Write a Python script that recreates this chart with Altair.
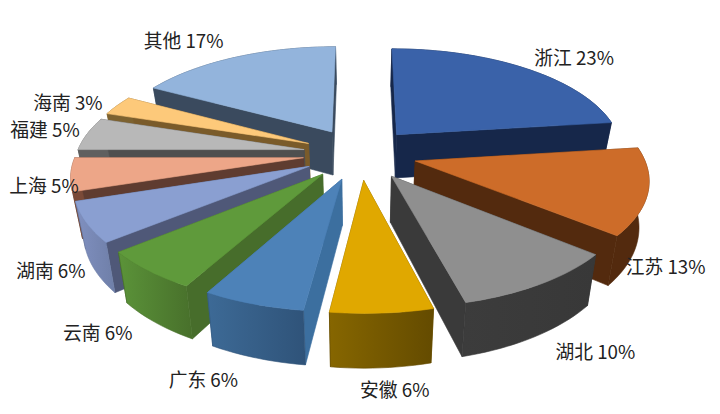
import math
import altair as alt
import pandas as pd

names = ["浙江", "江苏", "湖北", "安徽", "广东", "云南", "湖南", "上海", "福建", "海南", "其他"]
shares = [23, 13, 10, 6, 6, 6, 6, 5, 5, 3, 17]
top_colors = ["#3a62a9", "#cd6c29", "#8f8f8f", "#e0a800", "#4d82b8", "#5f9a3b", "#8a9fd1", "#eda688", "#b8b8b8", "#fdc97a", "#93b4dc"]
radial_colors = ["#16274a", "#532a0e", "#3a3a3a", "#6e5300", "#3c6f9f", "#476d2b", "#4f5878", "#5f3c30", "#4f4f4f", "#7a5b2a", "#3a4a5e"]
rim_left = ["#16274a", "#532a0e", "#3c3c3c", "#866600", "#3d6a96", "#5b9339", "#8090c0", "#7a4a38", "#5f5f5f", "#7d6230", "#3e5068"]
rim_right = ["#16274a", "#532a0e", "#383838", "#644b00", "#2f5379", "#48702b", "#6f7fa8", "#7a4a38", "#5f5f5f", "#7d6230", "#3e5068"]
label_radius = [1.30, 1.20, 1.25, 1.38, 1.30, 1.24, 1.22, 1.30, 1.30, 1.26, 1.22]
label_dx = [44, 30, 55, 10, -45, -53, -43, -15, -32, -48, -55]
label_dy = [-6, 79, 70, 58, 70, 65, 52, 12, -2, -1, -17]

CX, CY, R, TILT, K, DEPTH, EXPLODE, SHRINK = 364, 153, 230, 0.457, 0.15, 45, 0.25, 0.035
X_DOMAIN, Y_DOMAIN = [8, 720], [406, 8]


def project(u, v, z=0.0):
    s = 1 / (1 - K * v)
    return CX + R * u * s * (1 - SHRINK * z), CY + R * TILT * v * s + DEPTH * z * s


def grad(c1, c2):
    return alt.LinearGradient(
        gradient="linear", x1=0, x2=1, y1=0, y2=0,
        stops=[alt.GradientStop(color=c1, offset=0), alt.GradientStop(color=c2, offset=1)],
    )


def face(points, fill, stroke):
    df = pd.DataFrame([{"x": p[0], "y": p[1], "i": i} for i, p in enumerate(points + points[:1])])
    return alt.Chart(df).mark_line(fill=fill, stroke=stroke, strokeWidth=0.6).encode(
        x=alt.X("x:Q", scale=alt.Scale(domain=X_DOMAIN), axis=None),
        y=alt.Y("y:Q", scale=alt.Scale(domain=Y_DOMAIN), axis=None),
        order="i:Q",
    )


wedges = []
acc = 0
total = sum(shares)
for k, (n, sh) in enumerate(zip(names, shares)):
    a0 = acc / total * 2 * math.pi
    acc += sh
    a1 = acc / total * 2 * math.pi
    mid = (a0 + a1) / 2
    au, av = EXPLODE * math.sin(mid), -EXPLODE * math.cos(mid)
    steps = max(8, sh * 2)
    rim = []
    for j in range(steps + 1):
        a = a0 + (a1 - a0) * j / steps
        rim.append((au + math.sin(a), av - math.cos(a)))
    wedges.append(dict(k=k, name=n, share=sh, mid=mid, au=au, av=av, rim=rim))

layers = []
for w in sorted(wedges, key=lambda d: d["av"]):
    k, au, av, rim = w["k"], w["au"], w["av"], w["rim"]
    walls = []
    for end in (rim[0], rim[-1]):
        pts = [project(au, av), project(*end), project(end[0], end[1], 1), project(au, av, 1)]
        walls.append(((av + end[1]) / 2, pts, radial_colors[k], radial_colors[k]))
    outer = [project(*p) for p in rim] + [project(p[0], p[1], 1) for p in reversed(rim)]
    mean_v = sum(p[1] for p in rim) / len(rim)
    fill = rim_left[k] if rim_left[k] == rim_right[k] else grad(rim_left[k], rim_right[k])
    walls.append((mean_v + 0.3, outer, fill, rim_right[k]))
    for _, pts, col, stroke in sorted(walls, key=lambda t: t[0]):
        layers.append(face(pts, col, stroke))
    top_pts = [project(au, av)] + [project(*p) for p in rim]
    layers.append(face(top_pts, top_colors[k], top_colors[k]))

label_rows = []
for w in wedges:
    k = w["k"]
    x, y = project(label_radius[k] * math.sin(w["mid"]), -label_radius[k] * math.cos(w["mid"]))
    label_rows.append({"x": x + label_dx[k], "y": y + label_dy[k], "t": f'{w["name"]} {w["share"]}%'})
labels = alt.Chart(pd.DataFrame(label_rows)).mark_text(
    font="Noto Sans CJK SC", fontSize=19, color="#222222"
).encode(
    x=alt.X("x:Q", scale=alt.Scale(domain=X_DOMAIN), axis=None),
    y=alt.Y("y:Q", scale=alt.Scale(domain=Y_DOMAIN), axis=None),
    text="t:N",
)

chart = alt.layer(*layers, labels).properties(
    width=712, height=398, padding=0, background="white",
    autosize=alt.AutoSizeParams(type="none"),
).configure_view(stroke=None)
chart.save("out.html", embed_options={"renderer": "svg", "actions": False})
